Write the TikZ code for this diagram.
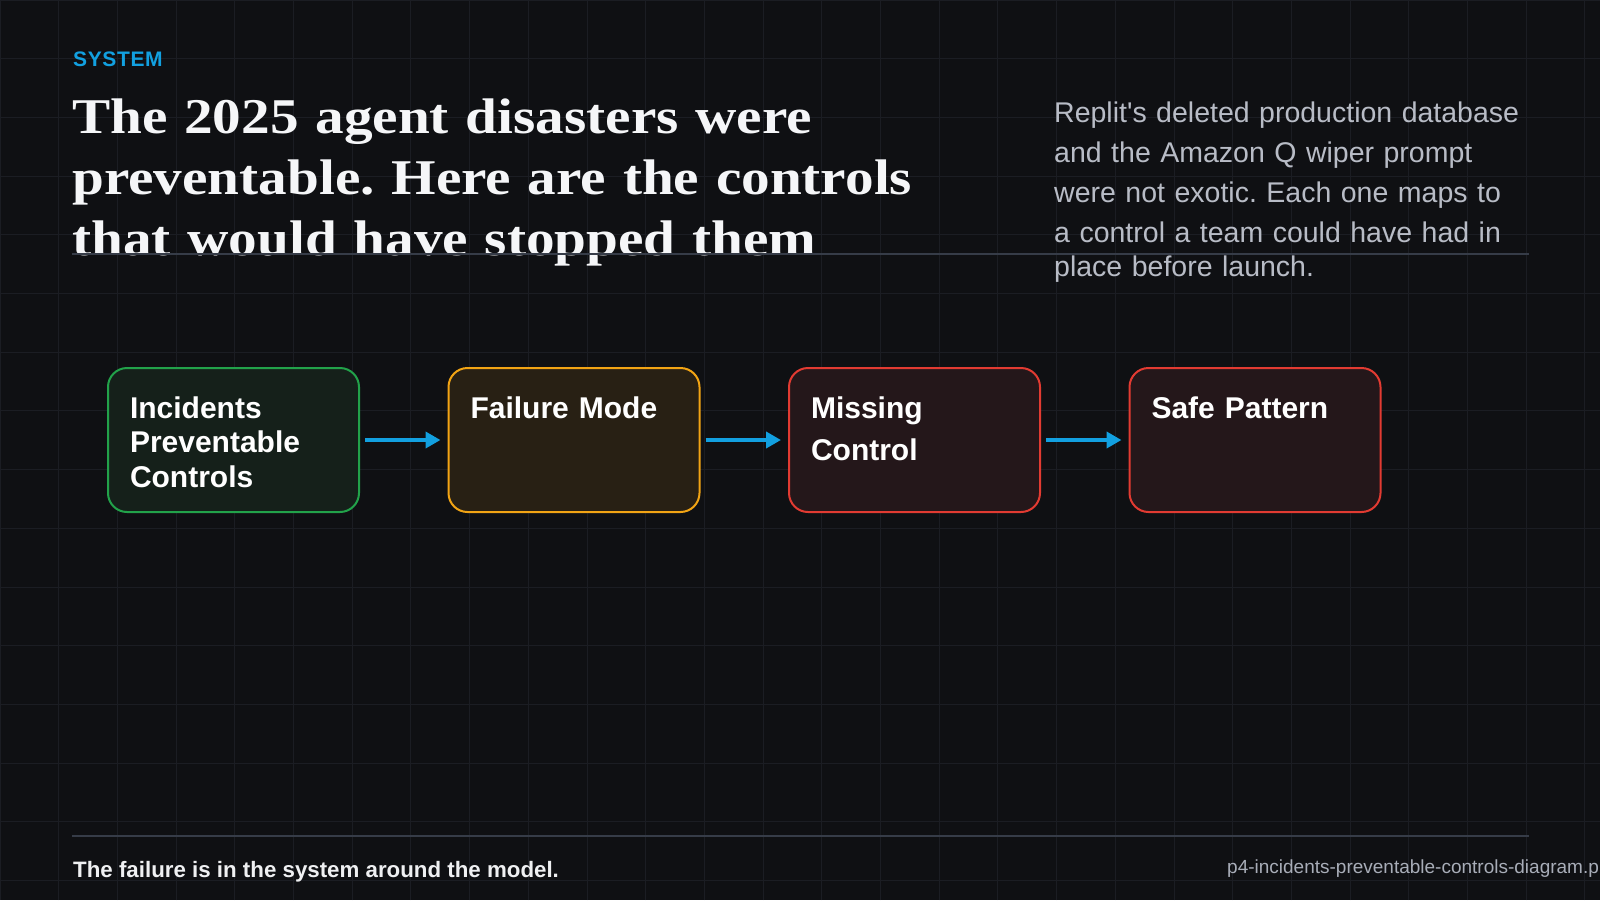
\documentclass[tikz,border=0pt]{standalone}
\usepackage{fontspec}
\setmainfont{Liberation Sans}
\newfontfamily\titlefont[FakeStretch=1.145]{Liberation Serif}
\usepackage{xcolor}
\usetikzlibrary{arrows.meta, positioning}
\frenchspacing

\definecolor{bgdark}{HTML}{0F1013}
\definecolor{gridline}{HTML}{1B1D23}
\definecolor{rulegray}{HTML}{363C48}
\definecolor{accentblue}{HTML}{12A0E0}
\definecolor{bodygray}{HTML}{B8BCC6}
\definecolor{footgray}{HTML}{A8ADB8}
\definecolor{titlewhite}{HTML}{F5F6F8}
\definecolor{okgreen}{HTML}{22A24A}
\definecolor{okfill}{HTML}{15201A}
\definecolor{warnorange}{HTML}{F2A414}
\definecolor{warnfill}{HTML}{282014}
\definecolor{badred}{HTML}{E23B32}
\definecolor{badfill}{HTML}{24171A}

\begin{document}
\begin{tikzpicture}[x=1pt, y=-1pt,
    stage/.style={rectangle, draw=#1, line width=2pt, rounded corners=19pt, align=left,
        text width=207pt, inner xsep=22pt, inner ysep=28pt, text height=22pt, text depth=66pt,
        text=white, font=\fontsize{30pt}{42pt}\selectfont\bfseries},
    flow/.style={-{Triangle[length=15pt, width=16pt]}, line width=4.5pt, draw=accentblue, shorten <=5pt, shorten >=7pt},
    kicker/.style={anchor=base west, inner sep=0pt, text=accentblue, font=\fontsize{21pt}{25pt}\selectfont\bfseries\addfontfeature{LetterSpace=3}},
    headline/.style={anchor=base west, inner sep=0pt, align=left, text width=900pt, text=titlewhite, font=\titlefont\bfseries\fontsize{50pt}{61pt}\selectfont},
    blurb/.style={anchor=base west, inner sep=0pt, align=left, text width=500pt, text=bodygray, font=\fontsize{28.5pt}{40pt}\selectfont},
    divider/.style={draw=rulegray, line width=2pt},
]

% Canvas and grid
\fill[bgdark] (0,0) rectangle (1600,900);
\useasboundingbox (0,0) rectangle (1600,900);
\clip (0,0) rectangle (1600,900);
\draw[gridline, line width=1pt, step=58.7pt] (0,0) grid (1600,900);

% Header
\node[kicker] (kicker) at (73,66) {SYSTEM};
\node[headline] (headline) at (72,133) {The 2025 agent disasters were\\preventable. Here are the controls\\that would have stopped them};
\node[blurb] (blurb) at (1054,122) {Replit\textquotesingle s deleted production database\\and the Amazon Q wiper prompt\\were not exotic. Each one maps to\\a control a team could have had in\\[-6pt]place before launch.};
\draw[divider] (72,254) -- (1529,254);

% Stages
\node[stage=okgreen, fill=okfill, font=\fontsize{30pt}{34.5pt}\selectfont\bfseries] (incidents) at (233.5,440) {Incidents\\Preventable\\Controls};
\node[stage=warnorange, fill=warnfill, right=87.5pt of incidents] (failure) {Failure Mode};
\node[stage=badred, fill=badfill, right=87.5pt of failure] (missing) {Missing\\Control};
\node[stage=badred, fill=badfill, right=87.5pt of missing] (safe) {Safe Pattern};

\draw[flow] (incidents.east) -- (failure.west);
\draw[flow] (failure.east) -- (missing.west);
\draw[flow] (missing.east) -- (safe.west);

% Footer
\draw[divider] (72,836) -- (1529,836);
\node[anchor=base west, inner sep=0pt, text=titlewhite!95!gray, font=\fontsize{22.3pt}{26pt}\selectfont\bfseries] (takeaway) at (73,877) {The failure is in the system around the model.};
\node[anchor=base west, inner sep=0pt, text=footgray, font=\fontsize{19pt}{23pt}\selectfont] (filename) at (1227,873) {p4-incidents-preventable-controls-diagram.p};

\end{tikzpicture}
\end{document}
